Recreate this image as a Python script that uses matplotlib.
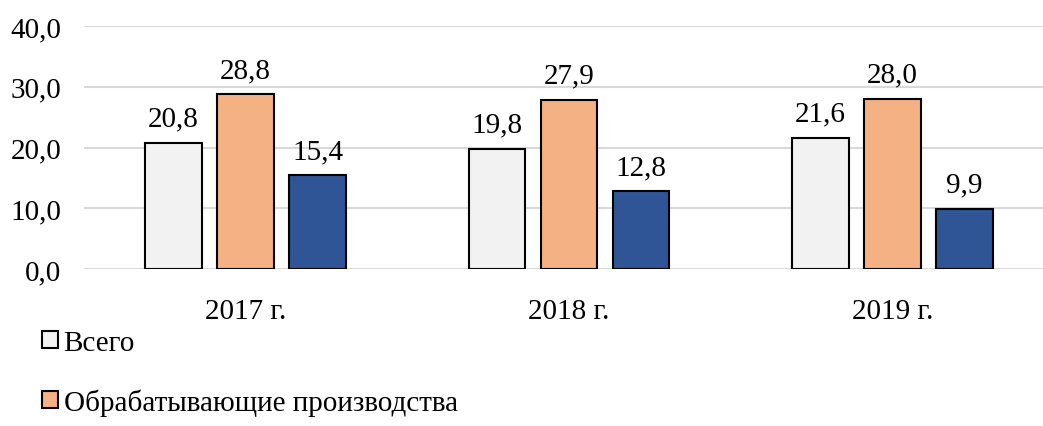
import numpy as np
import matplotlib
matplotlib.use('Agg')
import matplotlib.pyplot as plt
import matplotlib.ticker as mticker

plt.rcParams['font.family'] = ['Liberation Serif', 'DejaVu Serif']

# --- Data ---
years = ['2017 г.', '2018 г.', '2019 г.']
series_names = ['Всего', 'Обрабатывающие производства', 'Прочие']
total = [20.8, 19.8, 21.6]
manufacturing = [28.8, 27.9, 28.0]
other = [15.4, 12.8, 9.9]
colors = ['#F2F2F2', '#F4B183', '#2F5597']

values = [total, manufacturing, other]
FS = 21

# --- Figure ---
fig = plt.figure(figsize=(10.43, 4.27), dpi=100)
ax = fig.add_axes([83.75 / 1043, 1 - 270 / 427, 970.5 / 1043, 243 / 427])

x = np.arange(len(years))
width = 0.176
step = 0.2226
bars = []
for i, (vals, name, col) in enumerate(zip(values, series_names, colors)):
    b = ax.bar(x + (i - 1) * step, vals, width, color=col, edgecolor='black',
               linewidth=1.5, label=name, zorder=3)
    bars.append(b)
    for xi, v in zip(x + (i - 1) * step, vals):
        ax.annotate(f'{v:.1f}'.replace('.', ','), (xi, v), xytext=(0, 8),
                    textcoords='offset points', ha='center', va='bottom',
                    fontsize=FS)

ax.set_xlim(-0.5, len(years) - 0.5)
ax.set_ylim(0, 40)
ax.set_yticks([0, 10, 20, 30, 40])
ax.yaxis.set_major_formatter(mticker.FuncFormatter(lambda v, p: f'{v:.1f}'.replace('.', ',')))
ax.set_xticks(x)
ax.set_xticklabels(years)
ax.tick_params(axis='both', length=0, labelsize=FS)
ax.tick_params(axis='x', pad=21)
ax.tick_params(axis='y', pad=16)
ax.grid(axis='y', color='#D9D9D9', linewidth=1.5, zorder=0)
for s in ax.spines.values():
    s.set_visible(False)

# legend: only the first two entries fit on the canvas
fig.legend(handles=bars[:2], labels=series_names[:2], loc='upper left',
           bbox_to_anchor=(30 / 1043, 1 - 319 / 427), frameon=False,
           fontsize=FS, handlelength=0.55, handleheight=0.55, handletextpad=0.2,
           labelspacing=1.12, borderaxespad=0)

fig.savefig('out.png', dpi=100)
